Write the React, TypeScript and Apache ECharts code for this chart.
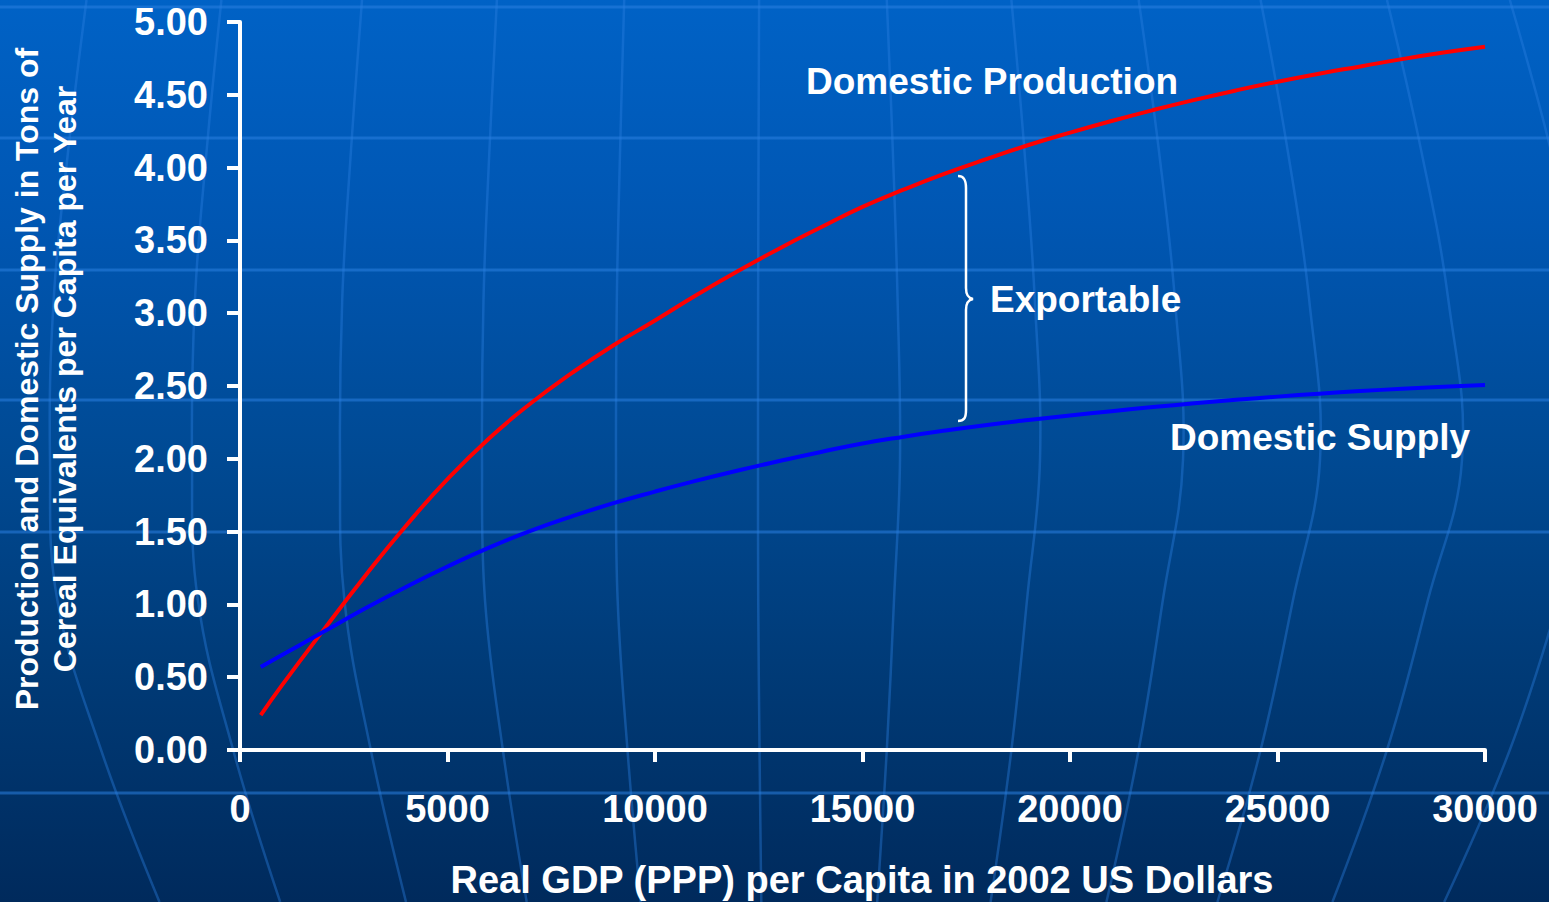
import React, { useEffect, useRef } from "react";
import * as echarts from "echarts";

const gdp = [500, 1000, 2000, 3000, 4000, 5000, 6000, 7000, 8000, 9000, 10000, 11000, 12000, 13000, 14000, 15000, 16000, 17000, 18000, 19000, 20000, 21000, 22000, 23000, 24000, 25000, 26000, 27000, 28000, 29000, 30000];
const production = [0.24, 0.44, 0.82, 1.19, 1.54, 1.86, 2.14, 2.38, 2.59, 2.78, 2.95, 3.125, 3.29, 3.445, 3.59, 3.73, 3.85, 3.96, 4.06, 4.155, 4.24, 4.32, 4.395, 4.465, 4.53, 4.59, 4.645, 4.695, 4.745, 4.79, 4.83];
const supply = [0.57, 0.65, 0.81, 0.97, 1.12, 1.26, 1.39, 1.505, 1.605, 1.695, 1.775, 1.85, 1.92, 1.985, 2.047, 2.105, 2.152, 2.194, 2.232, 2.266, 2.297, 2.327, 2.355, 2.381, 2.405, 2.427, 2.447, 2.465, 2.481, 2.495, 2.507];

const xTicks = { min: 0, max: 30000, interval: 5000 };
const yTicks = { min: 0, max: 5, interval: 0.5 };

const FONT = '"Liberation Sans", Arial, Helvetica, sans-serif';

const BRACE_D =
  "M958,176 C964,176 966,180 966,188 L966,288 C966,295 968,298 973,299 C968,300 966,303 966,310 L966,410 C966,418 964,421 958,421";

let registered = false;
function registerShapes() {
  if (registered) return;
  echarts.graphic.registerShape("brace", echarts.graphic.extendPath(BRACE_D, {}) as any);
  registered = true;
}

// decorative globe grid
const parallelsY = [7, 138, 270, 400, 532, 793];
const meridianOffsets = [-730, -588, -440, -298, -164, -22, 120, 260, 403, 540, 682, 820, 960];
const leftProfile = [[0, 0.95], [150, 0.975], [300, 0.995], [460, 1], [600, 0.99], [750, 0.93], [902, 0.85]];
const rightProfile = [[0, 0.89], [150, 0.94], [300, 0.98], [460, 1], [600, 0.95], [750, 0.89], [902, 0.81]];

function buildDecor(): any[] {
  const els: any[] = [];
  parallelsY.forEach((y) => {
    els.push({
      type: "line",
      z: -10,
      silent: true,
      shape: { x1: 0, y1: y, x2: 1549, y2: y },
      style: { stroke: "#2a7fe0", opacity: 0.55, lineWidth: 3 },
    });
  });
  meridianOffsets.forEach((d) => {
    const prof = d < 0 ? leftProfile : rightProfile;
    const pts = prof.map(([y, s]) => [780 + d * s, y]);
    els.push({
      type: "polyline",
      z: -10,
      silent: true,
      shape: { points: pts, smooth: 0.4 },
      style: { stroke: "#2a7fe0", opacity: 0.4, lineWidth: 2.5, fill: "none" },
    });
  });
  return els;
}

export default function App() {
  const ref = useRef<HTMLDivElement>(null);
  useEffect(() => {
    if (!ref.current) return;
    registerShapes();
    const chart = echarts.init(ref.current, undefined, { renderer: "svg" });
    const labelStyle = { color: "#ffffff", fontFamily: FONT, fontWeight: "bold" as const };
    chart.setOption({
      animation: false,
      backgroundColor: "transparent",
      grid: { left: 240, right: 64, top: 22, bottom: 152, containLabel: false },
      xAxis: {
        type: "value",
        min: xTicks.min,
        max: xTicks.max,
        interval: xTicks.interval,
        axisLine: { show: true, lineStyle: { color: "#ffffff", width: 4 } },
        axisTick: { show: true, length: 12, lineStyle: { color: "#ffffff", width: 4 } },
        axisLabel: { ...labelStyle, fontSize: 38, margin: 40, formatter: (v: number) => String(v) },
        splitLine: { show: false },
      },
      yAxis: {
        type: "value",
        min: yTicks.min,
        max: yTicks.max,
        interval: yTicks.interval,
        axisLine: { show: true, lineStyle: { color: "#ffffff", width: 4 } },
        axisTick: { show: true, length: 13, lineStyle: { color: "#ffffff", width: 4 } },
        axisLabel: { ...labelStyle, fontSize: 38, margin: 32, formatter: (v: number) => v.toFixed(2) },
        splitLine: { show: false },
      },
      series: [
        {
          name: "Domestic Production",
          type: "line",
          smooth: 0.5,
          showSymbol: false,
          data: gdp.map((g, i) => [g, production[i]]),
          lineStyle: { color: "#ff0000", width: 4 },
          itemStyle: { color: "#ff0000" },
        },
        {
          name: "Domestic Supply",
          type: "line",
          smooth: 0.5,
          showSymbol: false,
          data: gdp.map((g, i) => [g, supply[i]]),
          lineStyle: { color: "#0000ff", width: 4 },
          itemStyle: { color: "#0000ff" },
        },
      ],
      graphic: [
        ...buildDecor(),
        {
          type: "brace",
          x: 0,
          y: 0,
          z: 10,
          style: { stroke: "#ffffff", fill: "none", lineWidth: 2.5 },
        },
        {
          type: "text",
          x: 806,
          y: 81,
          z: 10,
          style: { text: "Domestic Production", fill: "#ffffff", font: `bold 37px ${FONT}`, textAlign: "left", textVerticalAlign: "middle" },
        },
        {
          type: "text",
          x: 990,
          y: 299,
          z: 10,
          style: { text: "Exportable", fill: "#ffffff", font: `bold 37px ${FONT}`, textAlign: "left", textVerticalAlign: "middle" },
        },
        {
          type: "text",
          x: 1170,
          y: 437,
          z: 10,
          style: { text: "Domestic Supply", fill: "#ffffff", font: `bold 37px ${FONT}`, textAlign: "left", textVerticalAlign: "middle" },
        },
        {
          type: "text",
          x: 862,
          y: 880,
          z: 10,
          style: { text: "Real GDP (PPP) per Capita in 2002 US Dollars", fill: "#ffffff", font: `bold 38px ${FONT}`, textAlign: "center", textVerticalAlign: "middle" },
        },
        {
          type: "text",
          x: 46,
          y: 379,
          rotation: Math.PI / 2,
          z: 10,
          style: {
            text: "Production and Domestic Supply in Tons of\nCereal Equivalents per Capita per Year",
            fill: "#ffffff",
            font: `bold 32px ${FONT}`,
            lineHeight: 38,
            textAlign: "center",
            textVerticalAlign: "middle",
          },
        },
      ],
    });
    return () => chart.dispose();
  }, []);
  return (
    <div
      ref={ref}
      style={{
        position: "fixed",
        left: 0,
        top: 0,
        width: 1549,
        height: 902,
        background: "linear-gradient(180deg, #0062c6 0%, #0056b2 25%, #004a94 50%, #003a76 75%, #002a5c 100%)",
      }}
    />
  );
}
